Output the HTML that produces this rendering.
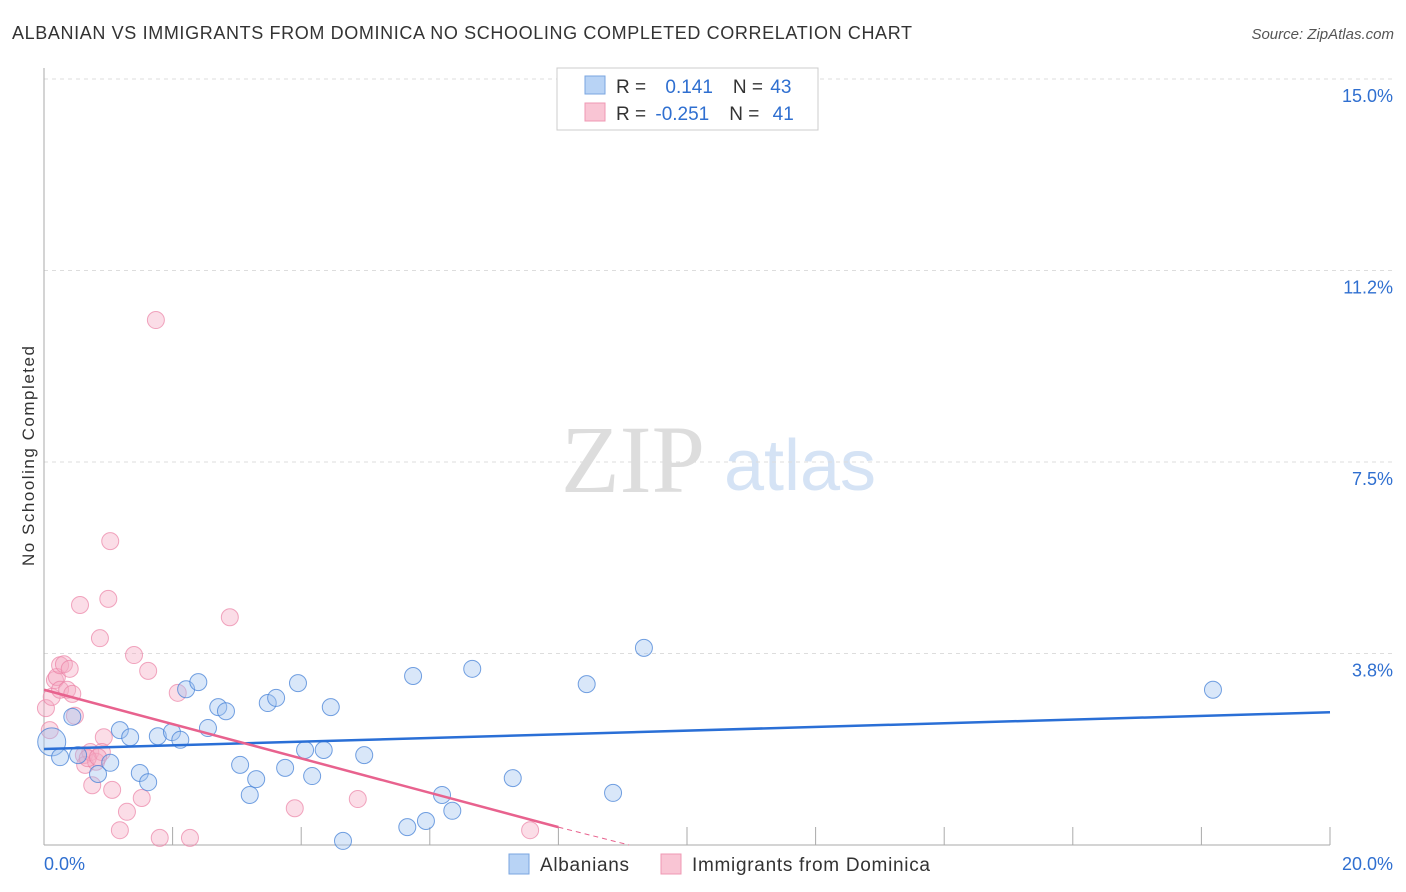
<!DOCTYPE html>
<html><head><meta charset="utf-8"><style>
body{margin:0;background:#fff;font-family:"Liberation Sans",sans-serif}
svg{display:block}
</style></head><body>
<svg width="1406" height="892" id="c">
<text x="12" y="39" font-size="18" fill="#333" textLength="900">ALBANIAN VS IMMIGRANTS FROM DOMINICA NO SCHOOLING COMPLETED CORRELATION CHART</text>
<text x="1394" y="39" font-size="15" fill="#555" font-style="italic" text-anchor="end">Source: ZipAtlas.com</text>
<text x="34" y="456" font-size="17" fill="#333" transform="rotate(-90 34 456)" text-anchor="middle" textLength="220">No Schooling Completed</text>
<text x="633" y="492" font-size="96" fill="#ddd" font-family="Liberation Serif" text-anchor="middle">ZIP</text>
<text x="800" y="490" font-size="72" fill="#d5e3f5" text-anchor="middle">atlas</text>
<g id="grid"></g><g id="marks"></g>
<g>
<rect x="557" y="68" width="261" height="62" fill="#fff" stroke="#ccc"/>
<rect x="585" y="76" width="20" height="18" fill="#b8d3f5" stroke="#7aa6e0"/>
<rect x="585" y="103" width="20" height="18" fill="#f9c5d4" stroke="#ef98b3"/>
<text x="616" y="93" font-size="19" fill="#333">R = <tspan fill="#2f6fd0" dx="14">0.141</tspan><tspan fill="#333" dx="20">N = </tspan><tspan fill="#2f6fd0" dx="2">43</tspan></text>
<text x="616" y="120" font-size="19" fill="#333">R = <tspan fill="#2f6fd0" dx="4">-0.251</tspan><tspan fill="#333" dx="20">N = </tspan><tspan fill="#2f6fd0" dx="8">41</tspan></text>
</g>
<g>
<rect x="509" y="854" width="20" height="20" fill="#b8d3f5" stroke="#7aa6e0"/>
<text x="540" y="871" font-size="19" fill="#333" textLength="89">Albanians</text>
<rect x="661" y="854" width="20" height="20" fill="#f9c5d4" stroke="#ef98b3"/>
<text x="692" y="871" font-size="19" fill="#333" textLength="238">Immigrants from Dominica</text>
</g>
</svg>
<script>
const yTicks=[3.75,7.5,11.25,15];
const yTickLabels=["3.8%","7.5%","11.2%","15.0%"];
const xTicks=[0,2,4,6,8,10,12,14,16,18,20];
const blueX=[0.12,0.25,0.44,0.53,0.84,1.03,1.18,1.34,1.49,1.62,1.77,1.99,2.12,2.21,2.40,2.55,2.71,2.83,3.05,3.20,3.30,3.48,3.61,3.75,3.95,4.06,4.17,4.35,4.46,4.65,4.98,5.65,5.74,5.94,6.19,6.35,6.66,7.29,8.44,8.85,9.33,18.18];
const blueY=[2.02,1.72,2.51,1.76,1.39,1.61,2.25,2.11,1.41,1.23,2.13,2.21,2.06,3.05,3.19,2.29,2.70,2.62,1.57,0.98,1.29,2.78,2.88,1.51,3.17,1.86,1.35,1.86,2.70,0.08,1.76,0.35,3.31,0.47,0.98,0.67,3.45,1.31,3.15,1.02,3.86,3.04];
const pinkX=[0.03,0.09,0.12,0.17,0.2,0.25,0.31,0.40,0.25,0.36,0.44,0.48,0.56,0.62,0.64,0.72,0.75,0.81,0.87,0.93,0.90,1.0,1.03,1.06,1.18,1.29,1.40,1.52,1.62,1.74,1.80,2.08,2.27,2.89,3.90,4.88,7.56,0.68,0.84];
const pinkY=[2.68,2.25,2.90,3.23,3.29,3.52,3.54,3.45,3.04,3.04,2.96,2.53,4.70,1.76,1.57,1.82,1.17,1.63,4.05,2.11,1.82,4.82,5.95,1.08,0.29,0.65,3.72,0.92,3.41,10.28,0.14,2.98,0.14,4.46,0.72,0.90,0.29,1.70,1.72];
const blueTrend=[[0,1.88],[20,2.60]];
const pinkTrend=[[0,3.04],[8,0.35],[9.1,0]];
const X0=44,X1=1330,Y0=845,Y1=79;
const sx=v=>X0+(X1-X0)*v/20, sy=v=>Y0-(Y0-Y1)*v/15;
const NS="http://www.w3.org/2000/svg";
function mk(t,a,p){const e=document.createElementNS(NS,t);for(const k in a)e.setAttribute(k,a[k]);p.appendChild(e);return e;}
const g=document.getElementById('grid'),m=document.getElementById('marks');
yTicks.forEach((t,i)=>{
 const l=mk('line',{x1:X0,x2:X1+64,y1:sy(t),y2:sy(t),stroke:'#ddd','stroke-dasharray':'4,4'},g);
 
 
 const tx=mk('text',{x:1393,y:sy(t)+23,'font-size':18,fill:'#2f6fd0','text-anchor':'end'},g);tx.textContent=yTickLabels[i];
 
 
});
let ax=mk('line',{x1:X0,x2:X0,y1:68,y2:Y0,stroke:'#aaa'},g);


ax=mk('line',{x1:X0,x2:X1,y1:Y0,y2:Y0,stroke:'#aaa'},g);


xTicks.forEach(t=>{if(t>0){const l=mk('line',{x1:sx(t),x2:sx(t),y1:Y0,y2:Y0-18,stroke:'#aaa'},g);
 
 }});
let xl=mk('text',{x:44,y:870,'font-size':18,fill:'#2f6fd0'},g);xl.textContent='0.0%';


xl=mk('text',{x:1393,y:870,'font-size':18,fill:'#2f6fd0','text-anchor':'end'},g);xl.textContent='20.0%';


pinkX.forEach((v,i)=>{const c=mk('circle',{cx:sx(v),cy:sy(pinkY[i]),r:8.5,fill:'rgba(246,170,195,0.4)',stroke:'rgba(235,130,165,0.7)'},m);
 
 });
blueX.forEach((v,i)=>{const c=mk('circle',{cx:sx(v),cy:sy(blueY[i]),r:i==0?14:8.5,fill:'rgba(160,195,240,0.4)',stroke:'rgba(70,130,215,0.75)'},m);
 
 });
let tl=mk('line',{x1:sx(blueTrend[0][0]),y1:sy(blueTrend[0][1]),x2:sx(blueTrend[1][0]),y2:sy(blueTrend[1][1]),stroke:'#2a6fd6','stroke-width':2.5},m);


tl=mk('line',{x1:sx(pinkTrend[0][0]),y1:sy(pinkTrend[0][1]),x2:sx(pinkTrend[1][0]),y2:sy(pinkTrend[1][1]),stroke:'#e8628e','stroke-width':2.5},m);


tl=mk('line',{x1:sx(pinkTrend[1][0]),y1:sy(pinkTrend[1][1]),x2:sx(pinkTrend[2][0]),y2:sy(pinkTrend[2][1]),stroke:'#e8628e','stroke-width':1,'stroke-dasharray':'5,4'},m);


</script>
</body></html>
